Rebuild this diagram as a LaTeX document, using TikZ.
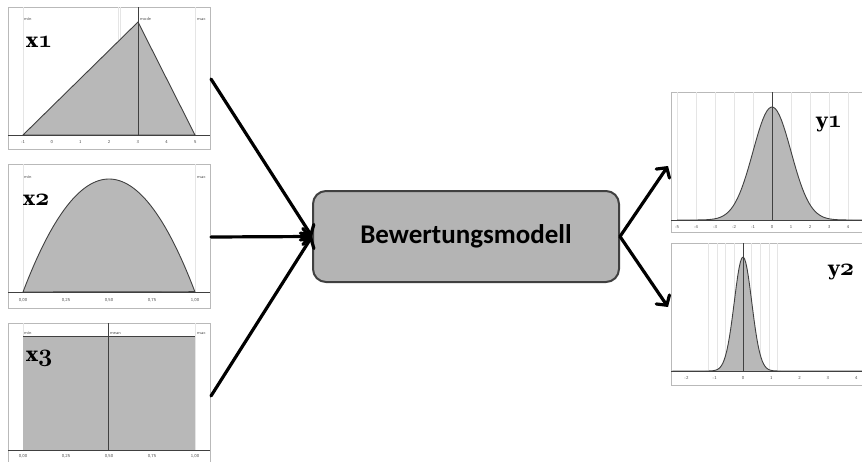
\documentclass[tikz,border=0pt]{standalone}
\usepackage{fontspec}
\newfontfamily\boxfont{Carlito}
\newfontfamily\labelfont{DejaVu Serif}
\usepackage{xcolor}
\usetikzlibrary{arrows.meta}

\definecolor{distgray}{HTML}{B8B8B8}
\definecolor{boxgray}{HTML}{B4B4B4}
\definecolor{edgegray}{HTML}{404040}

\newcommand{\osnum}[1]{{\fontencoding{OML}\fontfamily{cmm}\fontseries{b}\fontshape{it}\fontsize{25}{25}\selectfont #1}}

\tikzset{
	panel/.style = {draw = gray!55, line width = 0.8pt},
	gridline/.style = {draw = gray!20, line width = 0.8pt},
	axisline/.style = {draw = gray!50!black, line width = 1pt},
	centerline/.style = {draw = black!75, line width = 0.9pt},
	density/.style = {fill = distgray, draw = black!75, line width = 0.9pt},
	tick/.style = {font = \fontsize{4.5}{5}\selectfont\sffamily, text = gray!60!black, inner sep = 0pt},
	tag/.style = {font = \fontsize{4.5}{5}\selectfont\sffamily, text = gray!60!black, inner sep = 0pt, anchor = west},
	varlabel/.style = {font = \labelfont\bfseries\fontsize{20}{20}\selectfont, inner sep = 0pt, anchor = base west},
	modelbox/.style = {draw = edgegray, fill = boxgray, line width = 2pt, rounded corners = 13pt,
		minimum width = 306pt, minimum height = 91pt, font = \boxfont\bfseries\fontsize{27}{27}\selectfont},
	flow/.style = {-{Straight Barb[length = 7pt, width = 16pt, line cap = round]}, line width = 3.2pt, line cap = round}
}

\begin{document}
\begin{tikzpicture}[x = 1pt, y = -1pt]
	\useasboundingbox (0,0) rectangle (862,461);

	% x1: triangular distribution
	\draw [panel] (8,7) rectangle (210,149);
	\foreach \x in {23,118,120,195}
	{
		\draw [gridline] (\x,7) -- (\x,135);
	}
	\filldraw [density] (23,135) -- (138,22) -- (195,135) -- cycle;
	\draw [centerline] (138,7) -- (138,135);
	\draw [axisline] (8,135) -- (210,135);
	\foreach \k in {-1,...,5}
	{
		\node [tick] at ({51.7+28.7*\k},142) {\k};
	}
	\node [tag] at (24,19) {min};
	\node [tag] at (140,19) {mode};
	\node [tag] at (197,19) {max};
	\node [varlabel] (x1) at (26,47) {x\osnum{1}};

	% x2: beta distribution
	\draw [panel] (8,164) rectangle (210,308);
	\foreach \x in {23,195}
	{
		\draw [gridline] (\x,164) -- (\x,292);
	}
	\filldraw [density] plot [domain = 0:1, samples = 60] ({23+172*\x},{292-452*\x*(1-\x)}) -- cycle;
	\draw [axisline] (8,292) -- (210,292);
	\foreach \v [count = \i from 0] in {{0,00},{0,25},{0,50},{0,75},{1,00}}
	{
		\node [tick] at ({23+43*\i},300) {\v};
	}
	\node [tag] at (24,177) {min};
	\node [tag] at (197,177) {max};
	\node [varlabel] (x2) at (23,205) {x\osnum{2}};

	% x3: uniform distribution
	\draw [panel] (8,323) rectangle (210,475);
	\foreach \x in {23,195}
	{
		\draw [gridline] (\x,323) -- (\x,450);
	}
	\fill [distgray] (23,336) rectangle (195,450);
	\draw [density, fill = none] (23,336) -- (195,336);
	\draw [centerline] (108,323) -- (108,450);
	\draw [axisline] (8,450) -- (210,450);
	\foreach \v [count = \i from 0] in {{0,00},{0,25},{0,50},{0,75},{1,00}}
	{
		\node [tick] at ({23+43*\i},456) {\v};
	}
	\node [tag] at (24,333) {min};
	\node [tag] at (110,333) {mean};
	\node [tag] at (197,333) {max};
	\node [varlabel] (x3) at (26,361) {x\osnum{3}};

	% y1: output distribution
	\draw [panel] (671,92) rectangle (875,232);
	\foreach \k in {-5,...,4}
	{
		\draw [gridline] ({772+19*\k},92) -- ({772+19*\k},220);
	}
	\filldraw [density] plot [domain = -5:4.8, samples = 90] ({772+19*\x},{220-113*exp(-\x*\x/2)});
	\draw [centerline] (772,92) -- (772,220);
	\draw [axisline] (671,220) -- (862,220);
	\foreach \k in {-5,...,4}
	{
		\node [tick] at ({772+19*\k},227) {\k};
	}
	\node [varlabel] (y1) at (816,127) {y\osnum{1}};

	% y2: output distribution
	\draw [panel] (671,243) rectangle (875,385);
	\foreach \k in {-4,...,4}
	{
		\draw [gridline] ({743+8.7*\k},243) -- ({743+8.7*\k},371);
	}
	\filldraw [density] plot [domain = -2.5:4.2, samples = 140] ({743+28.3*\x},{371-114*exp(-\x*\x/0.19)});
	\draw [centerline] (743,243) -- (743,371);
	\draw [axisline] (671,371) -- (862,371);
	\foreach \k in {-2,...,4}
	{
		\node [tick] at ({743+28.3*\k},378) {\k};
	}
	\node [varlabel] (y2) at (828,275) {y\osnum{2}};

	% model and flows
	\node [modelbox] (model) at (466,236.5) {Bewertungsmodell};

	\coordinate (x1out) at (211,79);
	\coordinate (x2out) at (211,237);
	\coordinate (x3out) at (211,396);
	\coordinate (y1in) at (668,166);
	\coordinate (y2in) at (668,307);

	\draw [flow] (x1out) -- (model.west);
	\draw [flow] (x2out) -- (model.west);
	\draw [flow] (x3out) -- (model.west);
	\draw [flow] (model.east) -- (y1in);
	\draw [flow] (model.east) -- (y2in);
\end{tikzpicture}
\end{document}
